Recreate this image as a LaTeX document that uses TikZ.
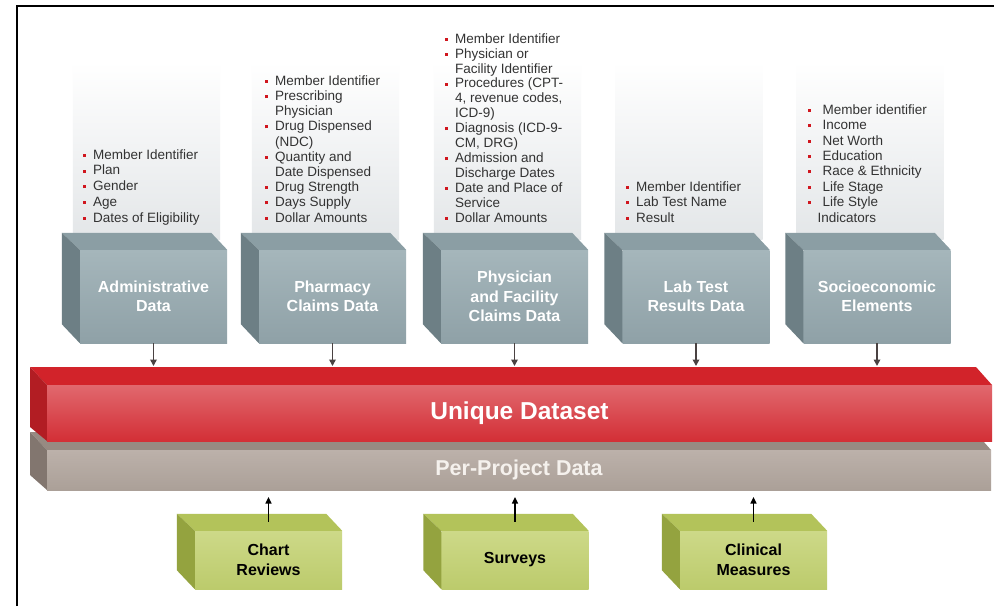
\documentclass[tikz,border=0pt]{standalone}
\usepackage{fontspec}
\setmainfont{Liberation Sans}
\usetikzlibrary{arrows.meta,calc}
\pgfdeclarelayer{background}
\pgfsetlayers{background,main}
\definecolor{bulred}{HTML}{D0161E}
\definecolor{txtgray}{HTML}{333333}
\definecolor{panelB}{HTML}{E3E6E8}
\definecolor{gfrontT}{HTML}{A5B6BB}
\definecolor{gfrontB}{HTML}{8FA1A7}
\definecolor{gtop}{HTML}{8B9EA4}
\definecolor{gleft}{HTML}{6D7F85}
\definecolor{gstrip}{HTML}{A9B8BD}
\definecolor{rfrontT}{HTML}{E1686E}
\definecolor{rfrontB}{HTML}{D32F36}
\definecolor{rtop}{HTML}{D2232A}
\definecolor{rleft}{HTML}{B21D23}
\definecolor{pfrontT}{HTML}{BCB1AA}
\definecolor{pfrontB}{HTML}{ABA098}
\definecolor{ptop}{HTML}{978A82}
\definecolor{pleft}{HTML}{82766F}
\definecolor{pptext}{HTML}{F5F1ED}
\definecolor{vfrontT}{HTML}{CDD988}
\definecolor{vfrontB}{HTML}{BCCB6C}
\definecolor{vtop}{HTML}{B3C35A}
\definecolor{vleft}{HTML}{94A33F}
\definecolor{arrdark}{HTML}{4A4242}
\newcommand\bl{\makebox[10pt][l]{\textcolor{bulred}{\rule[2.4pt]{3pt}{3pt}}}}
\newcommand\blw{\makebox[14.5pt][l]{\textcolor{bulred}{\rule[2.4pt]{3pt}{3pt}}}}
\newcommand\ind{\hspace*{10pt}}
\newcommand\blist[2]{{\fontsize{13.5}{#1}\selectfont\begin{tabular}[b]{@{}l@{}}#2\end{tabular}}}
\newcommand\cubefaces[3]{%
  \fill[#2] (#1.north west) -- ++(-18,-17) -- ($(#1.north east)+(-16,-17)$) -- (#1.north east) -- cycle;
  \fill[#3] (#1.north west) -- ++(-18,-17) -- ($(#1.south west)+(-18,-19)$) -- (#1.south west) -- cycle;
}
\begin{document}
\begin{tikzpicture}[x=1pt,y=-1pt,
  graybox/.style={rectangle, inner sep=0, minimum width=147pt, minimum height=93pt,
    top color=gfrontT, bottom color=gfrontB, text=white, align=center,
    font=\fontsize{16}{19.5}\selectfont\bfseries},
  greenbox/.style={rectangle, inner sep=0, minimum width=147pt, minimum height=58pt,
    top color=vfrontT, bottom color=vfrontB, text=black, align=center,
    font=\fontsize{16}{20}\selectfont\bfseries},
  listnode/.style={anchor=base west, inner sep=0, text=txtgray},
  darr/.style={draw=arrdark, line width=1.7pt, -{Triangle[length=6.5pt,width=6.5pt]}},
  uarr/.style={draw=black, line width=1.4pt, -{Triangle[length=6.5pt,width=6pt]}}]
\useasboundingbox (0,0) rectangle (994,606);
\begin{pgfonlayer}{background}
\fill[white] (0,0) rectangle (994,606);
\end{pgfonlayer}
% frame
\draw[line width=2.5pt, black] (17,606) -- (17,6) -- (994,6);

% gray source boxes (front faces)
\path
  (153.5,296.5) node[graybox] (adm) {Administrative\\Data}
  (332.5,296.5) node[graybox] (pha) {Pharmacy\\Claims Data}
  (514.5,296.5) node[graybox] (phy) {Physician\\and Facility\\Claims Data}
  (696,296.5)   node[graybox] (lab) {Lab Test\\Results Data}
  (877,296.5)   node[graybox] (soc) {Socioeconomic\\Elements};
\foreach \n in {adm,pha,phy,lab,soc}{
  \cubefaces{\n}{gtop}{gleft}
  \begin{pgfonlayer}{background}
    \shade[top color=white, bottom color=panelB] ($(\n.north west)+(-7,-188)$) rectangle ($(\n.north east)+(-7,-10)$);
  \end{pgfonlayer}
}

% bullet lists
\node[listnode] (ladm) at (83,222) {\blist{15.7}{\bl Member Identifier\\ \bl Plan\\ \bl Gender\\ \bl Age\\ \bl Dates of Eligibility}};
\node[listnode] (lpha) at (265,222) {\blist{15.2}{\bl Member Identifier\\ \bl Prescribing\\ \ind Physician\\ \bl Drug Dispensed\\ \ind (NDC)\\ \bl Quantity and\\ \ind Date Dispensed\\ \bl Drug Strength\\ \bl Days Supply\\ \bl Dollar Amounts}};
\node[listnode] (lphy) at (445,222) {\blist{14.9}{\bl Member Identifier\\ \bl Physician or\\ \ind Facility Identifier\\ \bl Procedures (CPT-\\ \ind 4, revenue codes,\\ \ind ICD-9)\\ \bl Diagnosis (ICD-9-\\ \ind CM, DRG)\\ \bl Admission and\\ \ind Discharge Dates\\ \bl Date and Place of\\ \ind Service\\ \bl Dollar Amounts}};
\node[listnode] (llab) at (626,222) {\blist{15.5}{\bl Member Identifier\\ \bl Lab Test Name\\ \bl Result}};
\node[listnode] (lsoc) at (808,222) {\blist{15.4}{\blw Member identifier\\ \blw Income\\ \blw Net Worth\\ \blw Education\\ \blw Race \& Ethnicity\\ \blw Life Stage\\ \blw Life Style\\ \hspace*{9.5pt}Indicators}};

% per-project bar (behind the red bar)
\fill[ptop] (47,450) -- (30,432) -- (975,432) -- (991,450) -- cycle;
\fill[pleft] (30,432) -- (47,450) -- (47,490) -- (30,475) -- cycle;
\node[rectangle, inner sep=0, minimum width=944pt, minimum height=40pt,
  top color=pfrontT, bottom color=pfrontB, text=pptext,
  font=\fontsize{21.5}{24}\selectfont\bfseries] (pp) at (519,470) {Per-Project Data};

% unique dataset bar
\fill[rtop] (47,385) -- (30,367) -- (976,367) -- (992,385) -- cycle;
\fill[rleft] (30,367) -- (47,385) -- (47,441) -- (30,427) -- cycle;
\node[rectangle, inner sep=0, minimum width=945pt, minimum height=56pt,
  top color=rfrontT, bottom color=rfrontB, text=white,
  font=\fontsize{24.5}{28}\selectfont\bfseries] (uds) at (519.5,413) {Unique Dataset};

% green boxes
\path
  (268.5,560) node[greenbox] (cr) {Chart\\Reviews}
  (515,560)   node[greenbox] (sv) {Surveys}
  (753.5,560) node[greenbox] (cm) {Clinical\\Measures};
\foreach \n in {cr,sv,cm}{
  \cubefaces{\n}{vtop}{vleft}
}

% arrows
\coordinate (rt) at (0,366);
\coordinate (pb) at (0,497);
\foreach \n in {adm,pha,phy,lab,soc}{
  \draw[darr] (\n.south) -- (\n.south |- rt);
}
\foreach \n in {cr,sv,cm}{
  \draw[uarr] ($(\n.north)+(0,-9)$) -- (\n.north |- pb);
}
\end{tikzpicture}
\end{document}
